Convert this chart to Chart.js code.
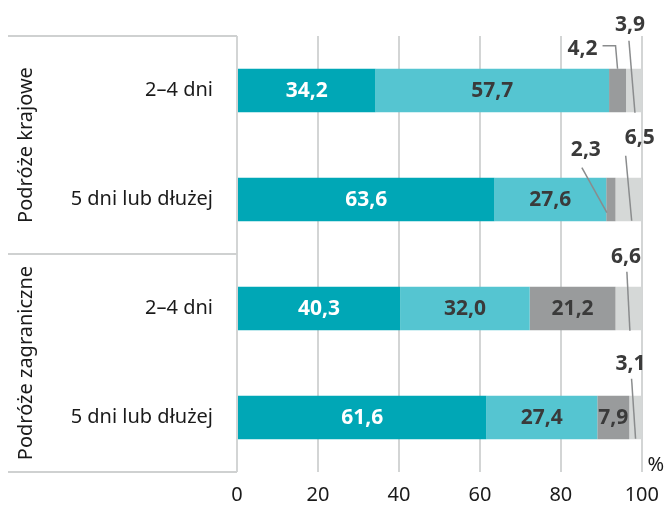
<!DOCTYPE html>
<html lang="pl">
<head>
    <meta charset="UTF-8">
    <title>Podróże</title>
    <script src="https://cdn.jsdelivr.net/npm/chart.js"></script>
    <style>
        body { margin: 0; background: #ffffff; }
        #wrap { width: 670px; height: 512px; }
    </style>
</head>
<body>
    <div id="wrap"><canvas id="chart" width="670" height="512"></canvas></div>
    <script>
        const categories = ['2–4 dni', '5 dni lub dłużej', '2–4 dni', '5 dni lub dłużej'];
        const groups = ['Podróże krajowe', 'Podróże zagraniczne'];
        const series1 = [34.2, 63.6, 40.3, 61.6];
        const series2 = [57.7, 27.6, 32.0, 27.4];
        const series3 = [4.2, 2.3, 21.2, 7.9];
        const series4 = [3.9, 6.5, 6.6, 3.1];
        const xTicks = [0, 20, 40, 60, 80, 100];

        const colors = ['#00a7b6', '#55c5d1', '#999b9c', '#d5d8d7'];
        const labelColors = ['#ffffff', '#3a3a3a', '#3a3a3a', '#3a3a3a'];
        const FONT = '"Noto Sans", sans-serif';

        // small segments labelled outside the bar, with a leader line
        // [dataset, row, label dx, label dy, line points...] relative to segment centre / bar top
        const callouts = [
            [2, 0, -35, -20, [[-15, -23], [-2, -23], [0, 0]]],
            [3, 0, -4, -44, [[-5, -28], [1, 44]]],
            [2, 1, -25, -28, [[-29, -10], [-4, 35]]],
            [3, 1, 11, -40, [[-3, -22], [3, 43]]],
            [3, 2, -3, -30, [[-2, -15], [1, 44]]],
            [3, 3, -5, -32, [[-4, -17], [0, 43]]]
        ];

        const fmt = v => v.toFixed(1).replace('.', ',');

        const decorations = {
            id: 'decorations',
            afterDatasetsDraw(chart) {
                const ctx = chart.ctx;
                const area = chart.chartArea;
                ctx.save();

                // labels inside the bars
                ctx.font = 'bold 21px ' + FONT;
                ctx.textAlign = 'center';
                ctx.textBaseline = 'middle';
                chart.data.datasets.forEach((ds, i) => {
                    chart.getDatasetMeta(i).data.forEach((el, j) => {
                        const v = ds.data[j];
                        if (v < 7) return;
                        ctx.fillStyle = labelColors[i];
                        ctx.fillText(fmt(v), (el.x + el.base) / 2, el.y + 1);
                    });
                });

                // callouts
                callouts.forEach(([i, j, dx, dy, pts]) => {
                    const el = chart.getDatasetMeta(i).data[j];
                    const cx = (el.x + el.base) / 2;
                    const top = el.y - el.height / 2;
                    ctx.strokeStyle = '#8a8c8d';
                    ctx.lineWidth = 1.5;
                    ctx.beginPath();
                    pts.forEach((p, k) => {
                        if (k === 0) ctx.moveTo(cx + p[0], top + p[1]);
                        else ctx.lineTo(cx + p[0], top + p[1]);
                    });
                    ctx.stroke();
                    ctx.fillStyle = '#3a3a3a';
                    ctx.fillText(fmt(chart.data.datasets[i].data[j]), cx + dx, top + dy);
                });

                // group box on the left
                const bandH = (area.bottom - area.top) / categories.length;
                ctx.strokeStyle = '#cfd1d1';
                ctx.lineWidth = 2;
                [0, 2, 4].forEach(k => {
                    const y = area.top + k * bandH;
                    ctx.beginPath();
                    ctx.moveTo(8, y);
                    ctx.lineTo(area.left, y);
                    ctx.stroke();
                });
                ctx.fillStyle = '#1a1a1a';
                ctx.font = '20px ' + FONT;
                groups.forEach((g, k) => {
                    const yc = area.top + (k * 2 + 1) * bandH;
                    ctx.save();
                    ctx.translate(26, yc);
                    ctx.rotate(-Math.PI / 2);
                    ctx.fillText(g, 0, 0);
                    ctx.restore();
                });

                // unit
                ctx.font = '20px ' + FONT;
                ctx.fillText('%', area.right + 14, area.bottom - 7);
                ctx.restore();
            }
        };

        const datasets = [series1, series2, series3, series4].map((d, i) => ({
            label: 'Seria ' + (i + 1),
            data: d,
            backgroundColor: colors[i],
            borderWidth: 0,
            barPercentage: 0.4,
            categoryPercentage: 1
        }));

        new Chart(document.getElementById('chart'), {
            type: 'bar',
            data: { labels: categories, datasets: datasets },
            options: {
                indexAxis: 'y',
                responsive: false,
                animation: false,
                layout: { padding: { top: 31, right: 26, left: 0, bottom: 0 } },
                plugins: {
                    legend: { display: false },
                    tooltip: { enabled: false }
                },
                scales: {
                    x: {
                        stacked: true,
                        min: 0,
                        max: 100,
                        afterBuildTicks: scale => { scale.ticks = xTicks.map(v => ({ value: v })); },
                        afterFit: scale => { scale.height = 40; },
                        grid: { color: '#d3d5d5', lineWidth: 2, drawTicks: false },
                        border: { display: false },
                        ticks: {
                            padding: 11,
                            color: '#1a1a1a',
                            font: { family: FONT, size: 20 }
                        }
                    },
                    y: {
                        stacked: true,
                        afterFit: scale => { scale.width = 237; },
                        grid: { display: false, drawTicks: false },
                        border: { display: false },
                        ticks: {
                            padding: 24,
                            color: '#1a1a1a',
                            font: { family: FONT, size: 20 }
                        }
                    }
                }
            },
            plugins: [decorations]
        });
    </script>
</body>
</html>
